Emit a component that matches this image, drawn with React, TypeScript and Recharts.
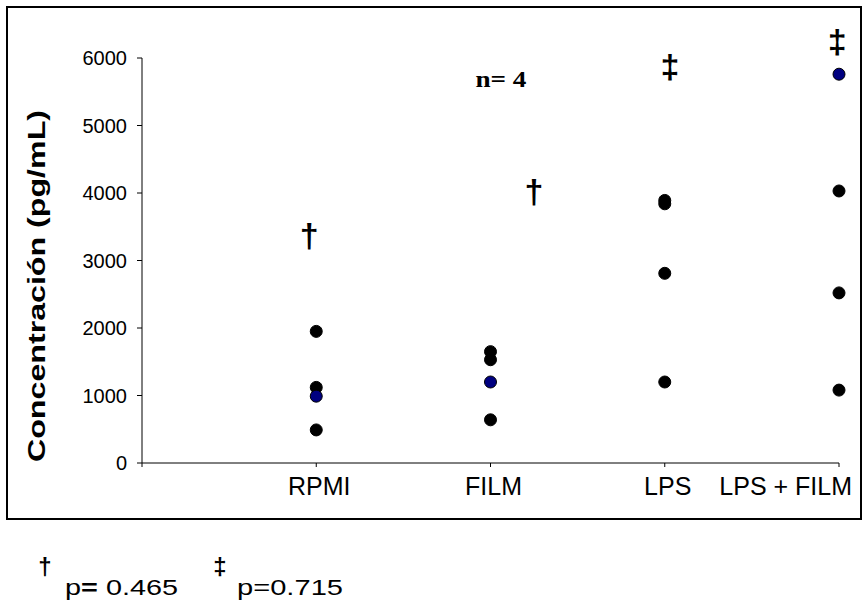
import { ScatterChart, Scatter, XAxis, YAxis, ReferenceDot } from "recharts";

const SANS = "'Liberation Sans', Arial, sans-serif";
const SERIF = "'Liberation Serif', 'Times New Roman', serif";

const categories = ["RPMI", "FILM", "LPS", "LPS + FILM"];
const rpmiValues = [1950, 1120, 990, 490];
const filmValues = [1650, 1530, 1200, 640];
const lpsValues = [3890, 3840, 2810, 1200];
const lpsFilmValues = [5760, 4030, 2520, 1080];
// index of the point drawn in blue in each group (-1 = none)
const bluePoint = [2, 2, -1, 0];
const yTicks = [0, 1000, 2000, 3000, 4000, 5000, 6000];
const xTicks = [0, 1, 2, 3, 4];

// significance marks placed in data units
const markText = ["†", "†", "‡", "‡"];
const markX = [0.96, 2.25, 3.03, 3.99];
const markY = [3360, 4010, 5870, 6240];

const groups = [rpmiValues, filmValues, lpsValues, lpsFilmValues];

const blackData = groups.flatMap((vals, i) =>
  vals.filter((_, j) => j !== bluePoint[i]).map((v) => ({ x: i + 1, y: v }))
);
const blueData = groups.flatMap((vals, i) =>
  vals.filter((_, j) => j === bluePoint[i]).map((v) => ({ x: i + 1, y: v }))
);

const dot = (fill: string) => (p: any) =>
  <circle cx={p.cx} cy={p.cy} r={6} fill={fill} stroke="#000" strokeWidth={1} />;

const XTick = (props: any) => {
  const { x, y, payload } = props;
  const i = payload.value - 1;
  if (i < 0) return null;
  const last = i === categories.length - 1;
  return (
    <text
      x={last ? x + 13 : x + 3}
      y={y}
      dy="0.71em"
      textAnchor={last ? "end" : "middle"}
      fontSize={25}
      fontFamily={SANS}
      fill="#000"
    >
      {categories[i]}
    </text>
  );
};

// the glyph sits on its baseline, so shift it down by half its height
const markShape = (txt: string) => (p: any) =>
  (
    <text
      x={p.cx}
      y={p.cy + 11}
      textAnchor="middle"
      fontSize={34}
      fontWeight="bold"
      fontFamily={SANS}
      fill="#000"
    >
      {txt}
    </text>
  );

export default function App() {
  return (
    <div style={{ position: "absolute", left: 0, top: 0, width: 863, height: 601, background: "#fff" }}>
      <ScatterChart width={863} height={601} margin={{ top: 58, right: 24, bottom: 98, left: 82 }}>
        <XAxis
          type="number"
          dataKey="x"
          domain={[0, 4]}
          ticks={xTicks}
          interval={0}
          axisLine={{ stroke: "#000" }}
          tickLine={{ stroke: "#000" }}
          tickSize={4}
          tickMargin={10}
          height={40}
          tick={<XTick />}
        />
        <YAxis
          type="number"
          dataKey="y"
          domain={[0, 6000]}
          ticks={yTicks}
          interval={0}
          width={60}
          axisLine={{ stroke: "#000" }}
          tickLine={{ stroke: "#000" }}
          tickSize={5}
          tickMargin={10}
          tick={{ fontSize: 20, fill: "#000", fontFamily: SANS }}
        />
        <Scatter data={blackData} shape={dot("#000")} isAnimationActive={false} />
        <Scatter data={blueData} shape={dot("#000080")} isAnimationActive={false} />
        {markText.map((t, i) => (
          <ReferenceDot
            key={i}
            x={markX[i]}
            y={markY[i]}
            r={0}
            ifOverflow="visible"
            shape={markShape(t)}
          />
        ))}
        <ReferenceDot
          x={2.06}
          y={5690}
          r={0}
          ifOverflow="visible"
          shape={(p: any) => (
            <text
              x={p.cx}
              y={p.cy}
              textAnchor="middle"
              dominantBaseline="central"
              fontSize={24}
              fontWeight="bold"
              fontFamily={SERIF}
              textLength={51}
              lengthAdjust="spacingAndGlyphs"
              fill="#000"
            >
              n= 4
            </text>
          )}
        />
      </ScatterChart>
      <svg
        width={863}
        height={601}
        style={{ position: "absolute", left: 0, top: 0, pointerEvents: "none" }}
      >
        <rect x={7} y={7} width={854} height={512} fill="none" stroke="#000" strokeWidth={2} />
        <text
          x={45}
          y={286}
          transform="rotate(-90 45 286)"
          textAnchor="middle"
          fontSize={23.5}
          fontWeight="bold"
          fontFamily={SANS}
          textLength={352}
          lengthAdjust="spacingAndGlyphs"
          fill="#000"
        >
          Concentración (pg/mL)
        </text>
        <text x={45} y={575} textAnchor="middle" fontSize={24} fontWeight="bold" fontFamily={SANS}>
          †
        </text>
        <text x={65} y={595} fontSize={22} fontFamily={SANS} textLength={113} lengthAdjust="spacingAndGlyphs">
          p<tspan fontWeight="bold">=</tspan> 0.465
        </text>
        <text x={220} y={575} textAnchor="middle" fontSize={24} fontWeight="bold" fontFamily={SANS}>
          ‡
        </text>
        <text x={237} y={595} fontSize={22} fontFamily={SANS} textLength={106} lengthAdjust="spacingAndGlyphs">
          p=0.715
        </text>
      </svg>
    </div>
  );
}
